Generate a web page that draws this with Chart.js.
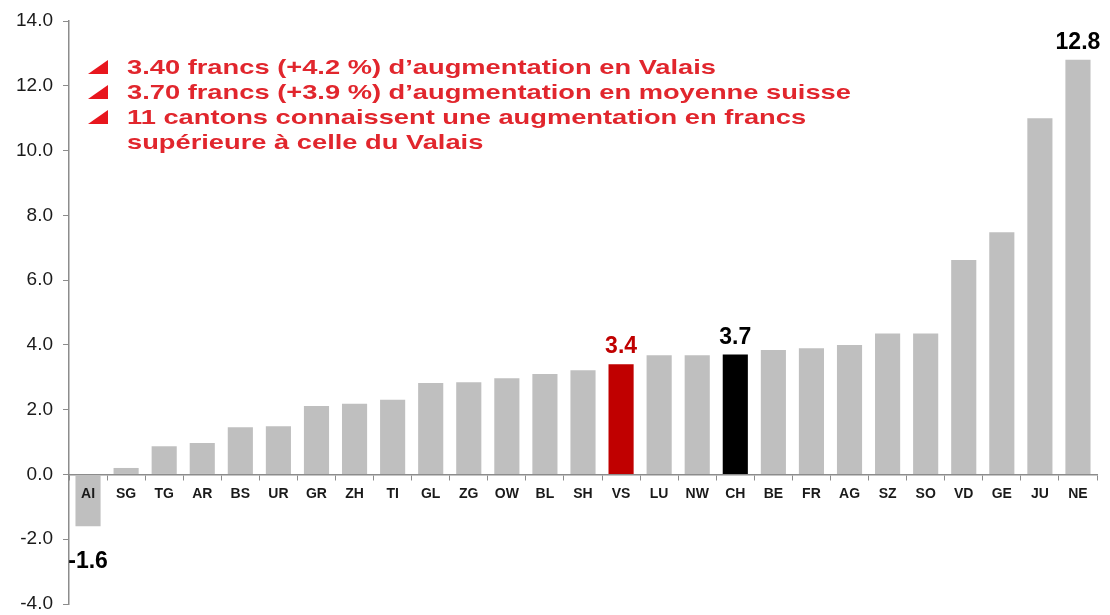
<!DOCTYPE html>
<html>
<head>
<meta charset="utf-8">
<script src="https://cdn.jsdelivr.net/npm/chart.js@4/dist/chart.umd.min.js"></script>
<style>
  html, body { margin: 0; padding: 0; background: #fff; overflow: hidden; }
  canvas { display: block; }
</style>
</head>
<body>
<canvas id="myChart" width="1110" height="615"></canvas>
<script>
// data
const cantons = ["AI", "SG", "TG", "AR", "BS", "UR", "GR", "ZH", "TI", "GL", "ZG", "OW", "BL", "SH",
  "VS", "LU", "NW", "CH", "BE", "FR", "AG", "SZ", "SO", "VD", "GE", "JU", "NE"];
const increase = [-1.6, 0.2, 0.87, 0.97, 1.46, 1.49, 2.11, 2.18, 2.31, 2.82, 2.85, 2.97, 3.1, 3.22,
  3.4, 3.68, 3.68, 3.7, 3.84, 3.9, 4.0, 4.35, 4.35, 6.62, 7.48, 11.0, 12.8];
const yTicks = [-4, -2, 0, 2, 4, 6, 8, 10, 12, 14];
const labelled = ["AI", "VS", "CH", "NE"];
const notes = [
  "3.40 francs (+4.2 %) d\u2019augmentation en Valais",
  "3.70 francs (+3.9 %) d\u2019augmentation en moyenne suisse",
  "11 cantons connaissent une augmentation en francs",
  "supérieure à celle du Valais",
];
const bulletLines = [0, 1, 2]; // lines with a triangle in front

const GREY = "#bfbfbf";
const VS_RED = "#c00000";
const NOTE_RED = "#e1262d";

const barColors = cantons.map((c) =>
  c === "VS" ? VS_RED : c === "CH" ? "#000000" : GREY
);

// value labels above / below a few bars
const valueLabels = {
  id: "valueLabels",
  afterDatasetsDraw(chart) {
    const ctx = chart.ctx;
    const meta = chart.getDatasetMeta(0);
    ctx.save();
    ctx.font = "bold 23px 'Liberation Sans', Arial, sans-serif";
    ctx.textAlign = "center";
    labelled.forEach((c) => {
      const i = cantons.indexOf(c);
      const bar = meta.data[i];
      const v = increase[i];
      ctx.fillStyle = c === "VS" ? VS_RED : "#000";
      if (v >= 0) {
        ctx.textBaseline = "alphabetic";
        ctx.fillText(v.toFixed(1), bar.x, bar.y - 11);
      } else {
        ctx.textBaseline = "top";
        ctx.fillText(v.toFixed(1), bar.x, bar.y + 24);
      }
    });
    ctx.restore();
  },
};

// red bullet text in the top-left
const notesPlugin = {
  id: "notes",
  afterDraw(chart) {
    const ctx = chart.ctx;
    ctx.save();
    ctx.font = "bold 21px 'Liberation Sans', Arial, sans-serif";
    ctx.textBaseline = "alphabetic";
    const sx = 589 / ctx.measureText(notes[0]).width;
    const left = 127, base0 = 74, step = 25;
    notes.forEach((line, k) => {
      const y = base0 + k * step;
      if (bulletLines.includes(k)) {
        ctx.fillStyle = "#e8161e";
        ctx.beginPath();
        ctx.moveTo(108, y - 14);
        ctx.lineTo(108, y);
        ctx.lineTo(88, y);
        ctx.closePath();
        ctx.fill();
      }
      ctx.save();
      ctx.translate(left, y);
      ctx.scale(sx, 1);
      ctx.fillStyle = NOTE_RED;
      ctx.fillText(line, 0, 0);
      ctx.restore();
    });
    ctx.restore();
  },
};

const ctx = document.getElementById("myChart").getContext("2d");
new Chart(ctx, {
  type: "bar",
  data: {
    labels: cantons,
    datasets: [{
      data: increase,
      backgroundColor: barColors,
      borderWidth: 0,
      barPercentage: 0.66,
      categoryPercentage: 1,
    }],
  },
  options: {
    responsive: false,
    animation: false,
    layout: { autoPadding: false, padding: { top: 21, bottom: 11, right: 13, left: 0 } },
    plugins: { legend: { display: false }, tooltip: { enabled: false } },
    scales: {
      x: {
        position: { y: 0 },
        // the axis sits on the zero line, so it should not take room at the bottom
        afterFit(scale) {
          scale.height = 0;
          scale.paddingTop = scale.paddingBottom = 0;
        },
        grid: {
          display: true,
          drawOnChartArea: false,
          drawTicks: true,
          tickLength: 5,
          offset: true,
          color: "#8c8c8c",
        },
        border: { display: true, color: "#8c8c8c", width: 1.5 },
        ticks: {
          z: 1, // keep "AI" on top of its negative bar
          autoSkip: false,
          maxRotation: 0,
          padding: 6,
          color: "#1a1a1a",
          font: { family: "'Liberation Sans', Arial, sans-serif", size: 14, weight: "bold" },
        },
      },
      y: {
        min: -4,
        max: 14,
        afterFit(scale) {
          scale.width = 69;
          scale.paddingTop = scale.paddingBottom = 0;
        },
        afterBuildTicks(scale) { scale.ticks = yTicks.map((v) => ({ value: v })); },
        grid: {
          display: true,
          drawOnChartArea: false,
          tickLength: 6,
          color: "#8c8c8c",
        },
        border: { display: true, color: "#8c8c8c", width: 1.5 },
        ticks: {
          padding: 10,
          color: "#1a1a1a",
          font: { family: "'Liberation Sans', Arial, sans-serif", size: 19 },
          callback: (v) => Number(v).toFixed(1),
        },
      },
    },
  },
  plugins: [valueLabels, notesPlugin],
});
</script>
</body>
</html>
